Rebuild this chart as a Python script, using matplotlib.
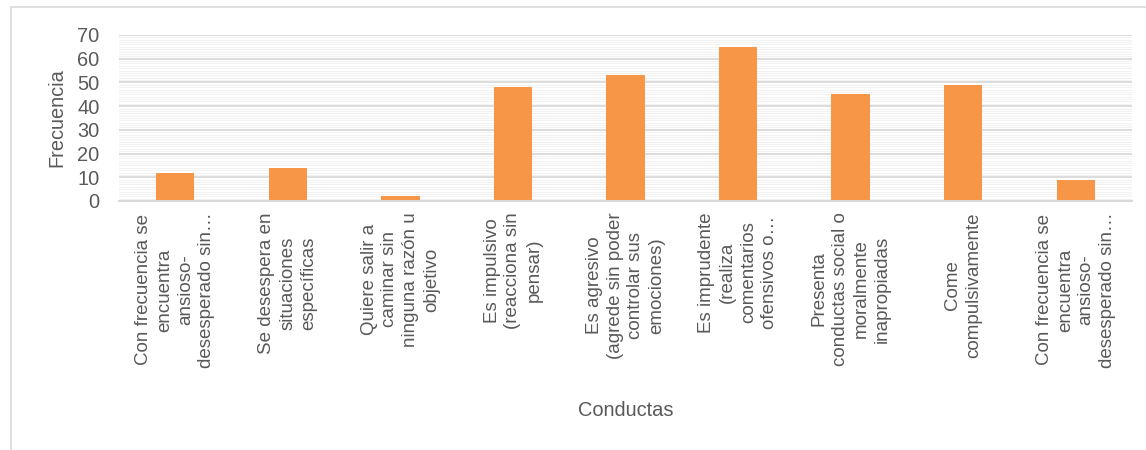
import matplotlib
matplotlib.use("Agg")
import matplotlib.pyplot as plt
from matplotlib.patches import Rectangle
from matplotlib.ticker import MultipleLocator

# data
conductas = [
    "Con frecuencia se\nencuentra\nansioso-\ndesesperado sin…",
    "Se desespera en\nsituaciones\nespecíficas",
    "Quiere salir a\ncaminar sin\nninguna razón u\nobjetivo",
    "Es impulsivo\n(reacciona sin\npensar)",
    "Es agresivo\n(agrede sin poder\ncontrolar sus\nemociones)",
    "Es imprudente\n(realiza\ncomentarios\nofensivos o…",
    "Presenta\nconductas social o\nmoralmente\ninapropiadas",
    "Come\ncompulsivamente",
    "Con frecuencia se\nencuentra\nansioso-\ndesesperado sin…",
]
frecuencia = [12, 14, 2, 48, 53, 65, 45, 49, 9]
y_ticks = [0, 10, 20, 30, 40, 50, 60, 70]

plt.rcParams['font.family'] = ['Liberation Sans', 'DejaVu Sans']
gris = "#595959"

fig = plt.figure(figsize=(11.46, 4.5), dpi=100)
# outer chart border
fig.patches.append(Rectangle((11 / 1146, -0.1), 1.2, 1.1 - 7 / 450, transform=fig.transFigure,
                             fill=False, edgecolor="#d9d9d9", linewidth=1.2))

ax = fig.add_axes([119 / 1146, 1 - 201 / 450, (1132 - 119) / 1146, (201 - 35) / 450])
x = list(range(len(frecuencia)))
ax.bar(x, frecuencia, width=0.34, color="#F79646", zorder=3)

ax.set_xlim(-0.5, len(frecuencia) - 0.5)
ax.set_ylim(0, 70)
ax.set_yticks(y_ticks)
ax.yaxis.set_minor_locator(MultipleLocator(1))
ax.grid(axis="y", which="major", color="#d9d9d9", linewidth=1.3, zorder=1)
ax.grid(axis="y", which="minor", color="#f2f2f2", linewidth=0.8, zorder=0)

ax.set_xticks(x)
ax.set_xticklabels(conductas, rotation=90, ha="center", va="top", multialignment="center",
                   linespacing=1.3, color=gris, fontsize=13.5)
ax.tick_params(axis="x", length=0, pad=8)
ax.tick_params(axis="y", which="both", length=0, pad=14, labelsize=14.4, labelcolor=gris)

for s in ["top", "right", "left"]:
    ax.spines[s].set_visible(False)
ax.spines["bottom"].set_color("#d9d9d9")
ax.spines["bottom"].set_linewidth(1.5)
ax.spines["bottom"].set_zorder(4)

ax.set_ylabel("Frecuencia", fontsize=14.4, color=gris)
ax.set_xlabel("Conductas", fontsize=14.4, color=gris)
ax.xaxis.set_label_coords(0.5, -(410 - 201) / 166)
ax.xaxis.label.set_va("center")
ax.yaxis.set_label_coords(-(119 - 57) / 1013, 0.5)
ax.yaxis.label.set_va("center")
ax.yaxis.label.set_ha("center")

fig.savefig("out.png", dpi=100)
